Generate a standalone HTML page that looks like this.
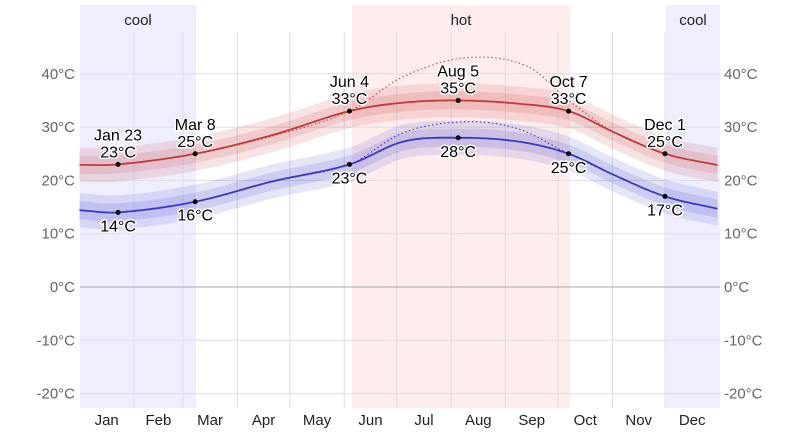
<!DOCTYPE html>
<html><head><meta charset="utf-8"><style>
body{margin:0;background:#fff}
svg{display:block;font-family:"Liberation Sans",sans-serif}
.t{font-size:15px;fill:#666}
.m{font-size:15px;fill:#222;text-anchor:middle}
.l{font-size:16px;fill:#000;text-anchor:middle;paint-order:stroke;stroke:#fff;stroke-width:3px;stroke-linejoin:round}
</style></head><body>
<svg id="s" width="800" height="432" xmlns="http://www.w3.org/2000/svg">
<rect x="80" y="5" width="116" height="403" fill="#eeeeff"/>
<rect x="666" y="5" width="54" height="403" fill="#eeeeff"/>
<rect x="352" y="5" width="218" height="403" fill="#ffeded"/>
<g id="grid" stroke="#ddd" stroke-width="1"></g>
<line x1="80" x2="720" y1="287" y2="287" stroke="#aaa"/>
<g id="data"></g>
<text x="138" y="25" class="m">cool</text>
<text x="693" y="25" class="m">cool</text>
<text x="461" y="25" class="m">hot</text>
<g id="labels"></g>
</svg>
<script>
const NS="http://www.w3.org/2000/svg";
function el(p,n,a,t){const e=document.createElementNS(NS,n);for(const k in a)e.setAttribute(k,a[k]);if(t!==undefined)e.textContent=t;document.getElementById(p).appendChild(e);return e;}
const X=d=>79.5+d*1.753, Y=T=>287-5.33*T;
[40,30,20,10,-10,-20].forEach(T=>el("grid","line",{x1:80,x2:720,y1:Y(T),y2:Y(T)}));
[31,59,90,120,151,181,212,243,273,304,334].forEach(d=>el("grid","line",{x1:X(d),x2:X(d),y1:32,y2:408}));
[40,30,20,10,0,-10,-20].forEach(T=>{
 el("labels","text",{x:75,y:Y(T)+5,class:"t","text-anchor":"end"},T+"°C");
 el("labels","text",{x:724,y:Y(T)+5,class:"t"},T+"°C");
});
["Jan","Feb","Mar","Apr","May","Jun","Jul","Aug","Sep","Oct","Nov","Dec"].forEach((m,i)=>{
 const s=[0,31,59,90,120,151,181,212,243,273,304,334,365];
 el("labels","text",{x:X((s[i]+s[i+1])/2),y:425,class:"m"},m);
});
function interp(pts){
 const out=[];
 for(let d=0;d<=365;d+=2){
  let i=0;while(i<pts.length-2&&pts[i+1][0]<d)i++;
  const p0=pts[Math.max(i-1,0)],p1=pts[i],p2=pts[i+1],p3=pts[Math.min(i+2,pts.length-1)];
  const t=(d-p1[0])/(p2[0]-p1[0]);
  const m1=(p2[1]-p0[1])/(p2[0]-p0[0])*(p2[0]-p1[0]), m2=(p3[1]-p1[1])/(p3[0]-p1[0])*(p2[0]-p1[0]);
  const t2=t*t,t3=t2*t;
  out.push([d,(2*t3-3*t2+1)*p1[1]+(t3-2*t2+t)*m1+(-2*t3+3*t2)*p2[1]+(t3-t2)*m2]);
 }
 return out;
}
const hi=interp([[0,22.9],[22,23],[66,25],[110,28.5],[154,33],[185,34.6],[216,35],[250,34.4],[279,33],[305,29],[334,25],[365,22.8]]);
const lo=interp([[0,14.4],[22,14],[66,16],[110,19.8],[154,23],[185,27.3],[216,28],[250,27.3],[279,25],[305,21],[334,17],[365,14.6]]);
const hid=interp([[0,22.9],[22,23],[66,25],[110,28.3],[154,33],[185,39.5],[220,43],[255,41.5],[279,35],[305,29],[334,25],[365,22.8]]);
const lod=interp([[0,14.4],[22,14],[66,16],[110,19.8],[154,23],[185,29],[220,31],[250,29.7],[279,25],[305,21],[334,17],[365,14.6]]);
function line(a){return "M"+a.map(p=>X(p[0]).toFixed(1)+","+Y(p[1]).toFixed(1)).join("L");}
function band(a,w){return line(a.map(p=>[p[0],p[1]+w]))+"L"+a.slice().reverse().map(p=>X(p[0]).toFixed(1)+","+Y(p[1]-w).toFixed(1)).join("L")+"Z";}
el("data","path",{d:band(hi,3.2),fill:"#c44",opacity:0.15});
el("data","path",{d:band(hi,1.7),fill:"#c44",opacity:0.15});
el("data","path",{d:band(lo,3.2),fill:"#44c",opacity:0.14});
el("data","path",{d:band(lo,1.7),fill:"#44c",opacity:0.15});
el("data","path",{d:line(hid),fill:"none",stroke:"#c33","stroke-width":1,"stroke-dasharray":"1.5,2.5"});
el("data","path",{d:line(lod),fill:"none",stroke:"#33c","stroke-width":1,"stroke-dasharray":"1.5,2.5"});
el("data","path",{d:line(hi),fill:"none",stroke:"#c03a3a","stroke-width":1.8});
el("data","path",{d:line(lo),fill:"none",stroke:"#3a3ac0","stroke-width":1.8});
const H=[[22,23,"Jan 23"],[66,25,"Mar 8"],[154,33,"Jun 4"],[216,35,"Aug 5"],[279,33,"Oct 7"],[334,25,"Dec 1"]];
const L=[[22,14],[66,16],[154,23],[216,28],[279,25],[334,17]];
H.forEach(([d,T,n])=>{el("labels","circle",{cx:X(d),cy:Y(T),r:2.5,fill:"#000"});
 el("labels","text",{x:X(d),y:Y(T)-24,class:"l"},n);el("labels","text",{x:X(d),y:Y(T)-7,class:"l"},T+"°C");});
L.forEach(([d,T])=>{el("labels","circle",{cx:X(d),cy:Y(T),r:2.5,fill:"#000"});
 el("labels","text",{x:X(d),y:Y(T)+19,class:"l"},T+"°C");});
</script>
</body></html>
